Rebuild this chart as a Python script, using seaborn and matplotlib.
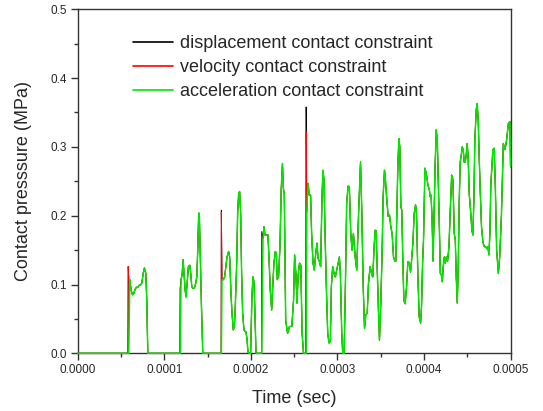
import numpy as np
import pandas as pd
import matplotlib
matplotlib.use("Agg")
import matplotlib.pyplot as plt
from matplotlib.ticker import MultipleLocator, FormatStrFormatter
import seaborn as sns

# ---- data (time in microseconds, pressure in MPa) ----
accel_time_us = [
    0.0, 57.0, 58.9, 60.1, 61.6, 63.2, 64.7, 66.2, 67.8, 69.3, 70.9, 72.4, 74.0, 75.5, 77.0, 78.6, 79.7, 80.9,
    118.4, 119.3, 120.5, 121.7, 122.8, 124.0, 125.1, 126.3, 127.8, 129.4, 130.5, 131.7, 133.2, 134.8, 136.3,
    137.5, 138.6, 139.7, 140.5, 141.3, 142.9, 144.4,
    165.9, 166.6, 168.2, 169.7, 171.0, 172.4, 174.3, 175.5, 177.0, 178.2, 179.7, 180.9, 182.0, 183.6, 184.7,
    185.9, 187.0, 188.2, 189.3, 190.5, 192.0, 193.2, 194.3, 195.5, 196.6, 198.2, 199.7, 201.2, 202.4, 203.6,
    204.7, 205.9,
    212.6, 214.0, 215.1, 216.3, 217.8, 219.7, 220.9, 222.4, 224.0, 225.1, 226.6, 228.2, 229.3, 230.5, 232.0,
    233.6, 235.0, 236.5, 237.5, 238.6, 239.3, 240.2, 242.4, 244.6, 247.3, 249.3, 250.5, 252.0, 253.2, 254.8,
    256.2, 257.7, 259.2, 260.8,
    263.9, 264.6, 266.0, 267.5, 269.0, 270.2, 271.8, 273.3, 274.9, 276.4, 277.6, 279.1, 280.6, 282.2, 283.3,
    284.5, 285.7, 287.2, 288.8, 290.3, 291.8, 293.0, 294.5, 296.1, 297.6, 299.2, 300.7, 302.3, 303.4, 305.0,
    306.1, 307.7, 309.2, 310.7, 312.3, 313.8, 315.4, 316.9, 318.5, 320.5, 322.3, 324.6, 326.7, 328.2, 329.8,
    331.3, 332.8, 334.4, 335.9, 337.8, 339.8, 340.9, 342.4, 343.6, 344.7, 345.9, 347.5, 348.6, 350.1, 351.7,
    352.8, 354.4, 355.5, 357.1, 358.6, 360.2, 361.7, 363.2, 364.8, 366.3, 367.5, 368.6, 369.8, 371.0, 372.1,
    373.3, 374.4, 375.6, 376.8, 378.3, 379.9, 381.4, 382.9, 384.5, 385.6, 387.2, 388.7, 390.3, 391.4, 393.0,
    394.5, 396.1, 397.2, 398.4, 399.5, 401.1, 402.6, 404.5, 406.3, 407.1, 408.2, 409.4, 410.5, 411.7, 412.8,
    414.3, 415.5, 416.6, 417.8, 418.9, 420.1, 421.2, 422.4, 423.5, 424.7, 425.8, 427.3, 428.9, 430.4, 432.0,
    433.5, 435.0, 436.2, 437.3, 438.5, 439.6, 440.8, 441.9, 443.1, 444.2, 445.4, 446.5, 447.7, 448.8, 450.0,
    451.1, 452.3, 453.8, 455.4, 456.5, 457.7, 458.8, 460.4, 461.5, 462.7, 463.8, 465.0, 466.5, 468.1, 469.6,
    471.2, 472.7, 473.9, 475.0, 476.2, 477.3, 478.5, 479.6, 481.2, 482.5, 484.0, 486.0, 487.5, 489.5, 491.7,
    493.6, 495.5, 497.5, 499.4, 500.0,
]
accel_mpa = [
    0.0, 0.0, 0.0, 0.107, 0.092, 0.085, 0.087, 0.093, 0.096, 0.096, 0.099, 0.099, 0.102, 0.116, 0.124, 0.116, 0.077, 0.0,
    0.0, 0.107, 0.114, 0.136, 0.116, 0.092, 0.082, 0.102, 0.126, 0.128, 0.116, 0.097, 0.094, 0.095, 0.102,
    0.111, 0.150, 0.204, 0.198, 0.155, 0.068, 0.0,
    0.0, 0.107, 0.107, 0.111, 0.125, 0.140, 0.148, 0.140, 0.087, 0.058, 0.034, 0.039, 0.068, 0.131, 0.203,
    0.233, 0.235, 0.203, 0.116, 0.058, 0.034, 0.032, 0.031, 0.021, 0.002, 0.0, 0.0, 0.082, 0.111, 0.104,
    0.058, 0.0,
    0.0, 0.167, 0.184, 0.172, 0.172, 0.172, 0.140, 0.092, 0.063, 0.092, 0.131, 0.148, 0.146, 0.107, 0.111,
    0.155, 0.237, 0.276, 0.240, 0.232, 0.150, 0.048, 0.029, 0.039, 0.039, 0.077, 0.143, 0.116, 0.073, 0.116,
    0.131, 0.128, 0.029, 0.0,
    0.0, 0.205, 0.247, 0.230, 0.230, 0.174, 0.131, 0.121, 0.145, 0.160, 0.138, 0.134, 0.126, 0.228, 0.266,
    0.252, 0.174, 0.097, 0.029, 0.015, 0.017, 0.097, 0.126, 0.116, 0.111, 0.121, 0.131, 0.140, 0.116, 0.029,
    0.0, 0.0, 0.097, 0.218, 0.243, 0.242, 0.174, 0.150, 0.174, 0.140, 0.121, 0.209, 0.278, 0.205, 0.097,
    0.036, 0.056, 0.058, 0.102, 0.126, 0.114, 0.111, 0.155, 0.179, 0.178, 0.126, 0.058, 0.019, 0.072, 0.150,
    0.228, 0.266, 0.252, 0.223, 0.199, 0.201, 0.184, 0.174, 0.140, 0.134, 0.134, 0.199, 0.271, 0.312, 0.300,
    0.213, 0.208, 0.134, 0.077, 0.072, 0.097, 0.133, 0.132, 0.118, 0.134, 0.160, 0.203, 0.216, 0.203, 0.111,
    0.053, 0.044, 0.068, 0.131, 0.165, 0.269, 0.262, 0.245, 0.237, 0.228, 0.230, 0.194, 0.134, 0.199, 0.271,
    0.325, 0.305, 0.247, 0.184, 0.116, 0.114, 0.104, 0.128, 0.140, 0.131, 0.140, 0.134, 0.155, 0.208, 0.259,
    0.252, 0.174, 0.165, 0.111, 0.073, 0.126, 0.223, 0.278, 0.288, 0.300, 0.296, 0.278, 0.278, 0.288, 0.305,
    0.283, 0.232, 0.208, 0.179, 0.172, 0.223, 0.310, 0.354, 0.363, 0.339, 0.286, 0.237, 0.184, 0.162, 0.155,
    0.155, 0.152, 0.155, 0.143, 0.174, 0.247, 0.271, 0.296, 0.298, 0.240, 0.150, 0.116, 0.140, 0.200, 0.305,
    0.296, 0.310, 0.334, 0.337, 0.271,
]

# points where the velocity / displacement curves depart from the acceleration curve
velocity_spike_time_us = [58.0, 58.3, 58.9, 118.0, 118.4, 165.7, 165.9, 212.4, 212.6, 263.5, 263.9]
velocity_spike_mpa = [0.0, 0.126, 0.108, 0.0, 0.095, 0.0, 0.205, 0.0, 0.170, 0.0, 0.322]
displacement_spike_time_us = [58.0, 58.3, 58.9, 118.0, 118.4, 165.7, 165.9, 212.4, 212.6, 263.5, 263.9]
displacement_spike_mpa = [0.0, 0.126, 0.108, 0.0, 0.095, 0.0, 0.208, 0.0, 0.177, 0.0, 0.358]

series_labels = ["displacement contact constraint",
                 "velocity contact constraint",
                 "acceleration contact constraint"]
series_colors = ["#000000", "#ff0000", "#00e600"]
series_widths = [0.7, 0.7, 1.1]


def merged(base_t, base_v, spike_t, spike_v):
    pts = dict(zip(base_t, base_v))
    pts.update(zip(spike_t, spike_v))
    ts = sorted(pts)
    return ts, [pts[t] for t in ts]


disp_t, disp_v = merged(accel_time_us, accel_mpa, displacement_spike_time_us, displacement_spike_mpa)
vel_t, vel_v = merged(accel_time_us, accel_mpa, velocity_spike_time_us, velocity_spike_mpa)

frames = []
for lab, ts, vs in zip(series_labels,
                       [disp_t, vel_t, accel_time_us],
                       [disp_v, vel_v, accel_mpa]):
    frames.append(pd.DataFrame({"time": np.asarray(ts) * 1e-6, "p": vs, "series": lab}))
df = pd.concat(frames, ignore_index=True)

# ---- plot ----
sns.set_style("ticks")
plt.rcParams["font.family"] = ["Liberation Sans", "DejaVu Sans"]

fig = plt.figure(figsize=(5.43, 4.11), dpi=100)
ax = fig.add_axes([77.8 / 543, 1 - 353.3 / 411, (510.5 - 77.8) / 543, (353.3 - 9.3) / 411])

sns.lineplot(data=df, x="time", y="p", hue="series", hue_order=series_labels,
             palette=dict(zip(series_labels, series_colors)),
             estimator=None, sort=False, linewidth=1.0, ax=ax, legend=False)

for ln, w in zip(ax.lines, series_widths):
    ln.set_zorder(3)
    ln.set_clip_on(False)
    ln.set_linewidth(w)

ax.set_xlim(0, 0.0005)
ax.set_ylim(0, 0.5)
ax.xaxis.set_major_locator(MultipleLocator(0.0001))
ax.xaxis.set_minor_locator(MultipleLocator(0.00005))
ax.yaxis.set_major_locator(MultipleLocator(0.1))
ax.yaxis.set_minor_locator(MultipleLocator(0.05))
ax.xaxis.set_major_formatter(FormatStrFormatter("%.4f"))
ax.yaxis.set_major_formatter(FormatStrFormatter("%.1f"))

for side in ["left", "right", "top", "bottom"]:
    ax.spines[side].set_visible(True)
    ax.spines[side].set_color("#333333")
    ax.spines[side].set_linewidth(1.0)

ax.tick_params(axis="both", which="major", direction="out", length=5, width=1.0,
               color="#333333", labelsize=8.5, pad=3, top=False, right=False)
ax.tick_params(axis="both", which="minor", direction="out", length=3, width=1.0,
               color="#333333", top=False, right=False)

ax.set_xlabel("Time (sec)", fontsize=13, labelpad=10)
ax.set_ylabel("Contact presssure (MPa)", fontsize=13, labelpad=13)

handles = ax.lines[:3]
leg = ax.legend(handles, series_labels, loc="upper left",
                bbox_to_anchor=((133 - 77.8) / 432.7, 1 - (35 - 9.3) / 344),
                frameon=False, fontsize=13, handlelength=2.2, handletextpad=0.4,
                labelspacing=0.4, borderpad=0, borderaxespad=0)
for lh in leg.get_lines():
    lh.set_linewidth(1.2)

fig.savefig("out.png", dpi=100, facecolor="white")
